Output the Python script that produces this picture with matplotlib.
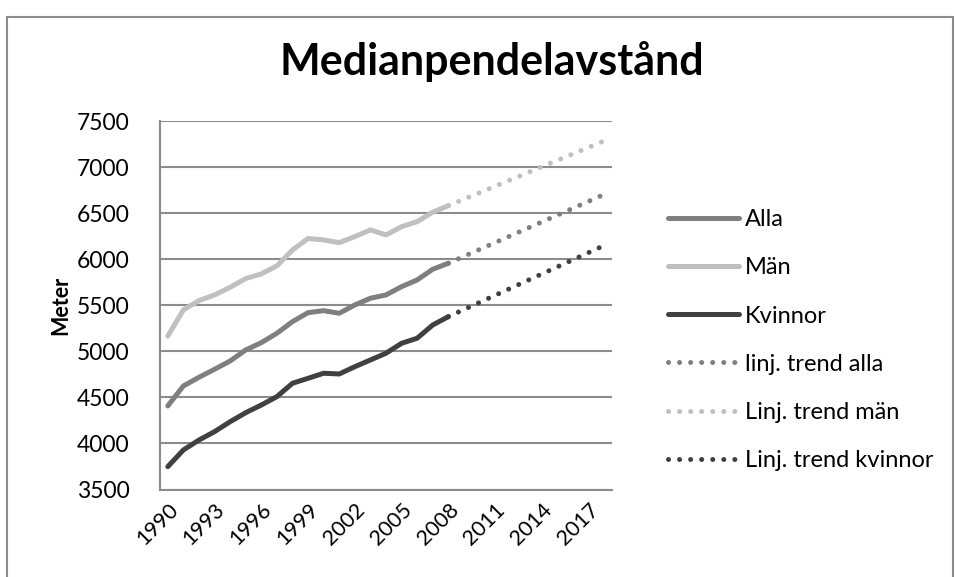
import matplotlib
matplotlib.use("Agg")
from matplotlib import pyplot as plt
from matplotlib.patches import Rectangle

plt.rcParams['font.family'] = ['Lato', 'DejaVu Sans']

years = list(range(1990, 2009))
alla = [4407, 4624, 4718, 4805, 4895, 5015, 5094, 5196, 5322, 5420,
        5441, 5413, 5503, 5576, 5612, 5702, 5775, 5891, 5956]
man = [5165, 5450, 5550, 5612, 5695, 5790, 5840, 5927, 6100, 6225,
       6209, 6180, 6245, 6318, 6263, 6353, 6408, 6510, 6581]
kvinnor = [3748, 3929, 4037, 4128, 4236, 4334, 4417, 4508, 4653, 4707,
           4762, 4754, 4833, 4906, 4979, 5087, 5142, 5286, 5376]

trend_years = [2008, 2018]
trend_alla = [5956, 6703]
trend_man = [6581, 7284]
trend_kvinnor = [5376, 6149]

tick_years = list(range(1990, 2018, 3))
yticks = list(range(3500, 7501, 500))

c_alla = '#7f7f7f'
c_man = '#c0c0c0'
c_kv = '#404040'
grid_c = '#8c8c8c'

fig = plt.figure(figsize=(9.55, 5.77), dpi=100)
ax = fig.add_axes([160/955, 1-489.5/577, (612-160)/955, (489.5-121)/577])

lw = 3.6
dots = (0, (0.01, 2.2))
ax.plot(years, alla, color=c_alla, lw=lw, solid_capstyle='round', label='Alla')
ax.plot(years, man, color=c_man, lw=lw, solid_capstyle='round', label='Män')
ax.plot(years, kvinnor, color=c_kv, lw=lw, solid_capstyle='round', label='Kvinnor')
ax.plot(trend_years, trend_alla, color=c_alla, lw=lw, ls=dots,
        dash_capstyle='round', label='linj. trend alla')
ax.plot(trend_years, trend_man, color=c_man, lw=lw, ls=dots,
        dash_capstyle='round', label='Linj. trend män')
ax.plot(trend_years, trend_kvinnor, color=c_kv, lw=lw, ls=dots,
        dash_capstyle='round', label='Linj. trend kvinnor')

ax.set_xlim(1989.5, 2018.5)
ax.set_ylim(3500, 7500)
ax.set_yticks(yticks)
ax.set_xticks(tick_years)
ax.set_xticklabels([str(y) for y in tick_years], rotation=45, ha='right',
                   rotation_mode='anchor')
ax.tick_params(length=0, labelsize=16.5)
ax.tick_params(axis='y', pad=22)
ax.tick_params(axis='x', pad=7, labelsize=15.5)
ax.grid(axis='y', color=grid_c, lw=1.5)
ax.set_axisbelow(True)
for s in ['top', 'right']:
    ax.spines[s].set_visible(False)
for s in ['left', 'bottom']:
    ax.spines[s].set_color(grid_c)
    ax.spines[s].set_linewidth(1.5)

ax.set_ylabel('Meter', fontsize=15.5, fontweight='bold', labelpad=4)

fig.text(0.515, 1-62/577, 'Medianpendelavstånd', ha='center', va='center',
         fontsize=31, fontweight='bold')

leg = fig.legend(loc='upper left', bbox_to_anchor=(647/955, 1-188/577),
                 frameon=False, fontsize=17, handlelength=3.0,
                 handletextpad=0.25, labelspacing=1.15)

fig.patches.append(Rectangle((7/955, -0.1), (953-7)/955, 1.1-17/577,
                             transform=fig.transFigure, fill=False,
                             edgecolor='#8c8c8c', lw=1.5))

fig.savefig('out.png', dpi=100)
